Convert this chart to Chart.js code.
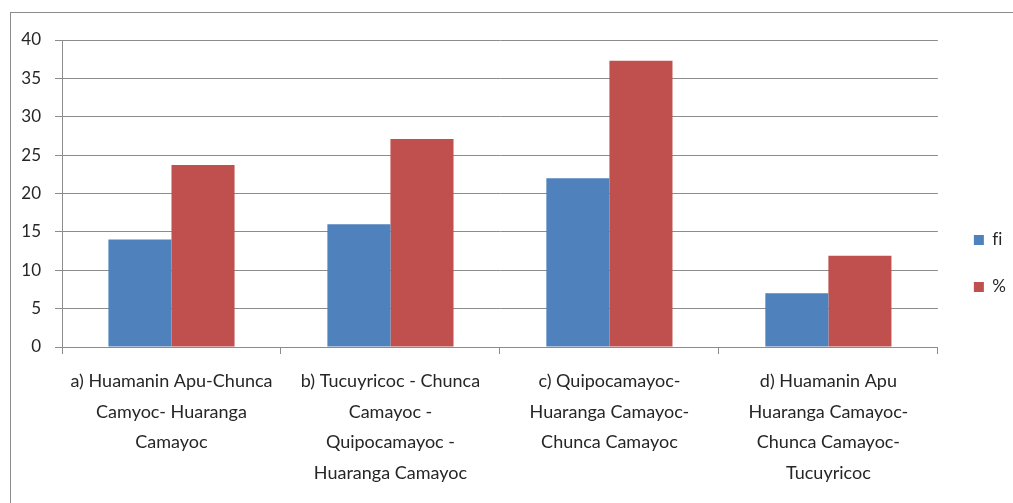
<!DOCTYPE html>
<html>
<head>
<meta charset="utf-8">
<script src="https://cdn.jsdelivr.net/npm/chart.js@4.4.0/dist/chart.umd.min.js"></script>
<style>
    html, body { margin: 0; padding: 0; background: #fff; overflow: hidden; }
    body { width: 1013px; height: 503px; position: relative; }
    #marco {
        position: absolute; left: 10px; top: 12px;
        width: 1010px; height: 498px;
        border: 1px solid #8c8c8c; box-sizing: border-box;
    }
    #grafico { display: block; }
</style>
</head>
<body>
<div id="marco"><canvas id="grafico" width="1008" height="496"></canvas></div>
<script>
// Datos del gráfico
const categorias = [
    ['a) Huamanin Apu-Chunca', 'Camyoc- Huaranga', 'Camayoc'],
    ['b) Tucuyricoc - Chunca', 'Camayoc -', 'Quipocamayoc -', 'Huaranga Camayoc'],
    ['c) Quipocamayoc-', 'Huaranga Camayoc-', 'Chunca Camayoc'],
    ['d) Huamanin Apu', 'Huaranga Camayoc-', 'Chunca Camayoc-', 'Tucuyricoc']
];
const valoresFi = [14, 16, 22, 7];
const valoresPorcentaje = [23.7, 27.1, 37.3, 11.9];
const ticksY = [0, 5, 10, 15, 20, 25, 30, 35, 40];
// el ZWNJ evita la ligadura "fi" de la fuente
const nombresSeries = ['f\u200Ci', '%'];

const COLORES = {
    azul: '#4f81bd',
    rojo: '#c0504d',
    grilla: '#8c8c8c',
    texto: '#262626'
};

const FUENTE = "Lato, 'Open Sans', sans-serif";

// Corre la leyenda un poco (a la derecha y hacia arriba) como en el original
const ajusteLeyenda = {
    id: 'ajusteLeyenda',
    afterLayout(chart) {
        const l = chart.legend;
        if (!l) return;
        l.left += 6; l.right += 6;
        l.top -= 11; l.bottom -= 11;
    }
};

document.addEventListener('DOMContentLoaded', () => {
    const ctx = document.getElementById('grafico').getContext('2d');

    new Chart(ctx, {
        type: 'bar',
        data: {
            labels: categorias,
            datasets: [
                {
                    label: nombresSeries[0],
                    data: valoresFi,
                    backgroundColor: COLORES.azul,
                    categoryPercentage: 0.576,
                    barPercentage: 1
                },
                {
                    label: nombresSeries[1],
                    data: valoresPorcentaje,
                    backgroundColor: COLORES.rojo,
                    categoryPercentage: 0.576,
                    barPercentage: 1
                }
            ]
        },
        plugins: [ajusteLeyenda],
        options: {
            responsive: false,
            animation: false,
            layout: {
                padding: { top: 27, left: 0, right: 9, bottom: 0 }
            },
            plugins: {
                tooltip: { enabled: false },
                legend: {
                    position: 'right',
                    labels: {
                        boxWidth: 10,
                        boxHeight: 10,
                        padding: 30,
                        color: COLORES.texto,
                        font: { family: FUENTE, size: 17 }
                    }
                }
            },
            scales: {
                x: {
                    afterFit: axis => { axis.height = 162; },
                    grid: {
                        offset: true,
                        drawOnChartArea: false,
                        drawTicks: true,
                        tickLength: 7,
                        color: COLORES.grilla
                    },
                    border: { display: true, color: COLORES.grilla },
                    ticks: {
                        maxRotation: 0,
                        autoSkip: false,
                        padding: 12,
                        color: COLORES.texto,
                        font: { family: FUENTE, size: 18, lineHeight: 1.7 }
                    }
                },
                y: {
                    min: 0,
                    max: 40,
                    afterFit: axis => { axis.width = 51; },
                    afterBuildTicks: axis => {
                        axis.ticks = ticksY.map(v => ({ value: v }));
                    },
                    grid: {
                        color: COLORES.grilla,
                        tickLength: 7
                    },
                    border: { display: true, color: COLORES.grilla },
                    ticks: {
                        padding: 14,
                        color: COLORES.texto,
                        font: { family: FUENTE, size: 17 }
                    }
                }
            }
        }
    });
});
</script>
</body>
</html>
